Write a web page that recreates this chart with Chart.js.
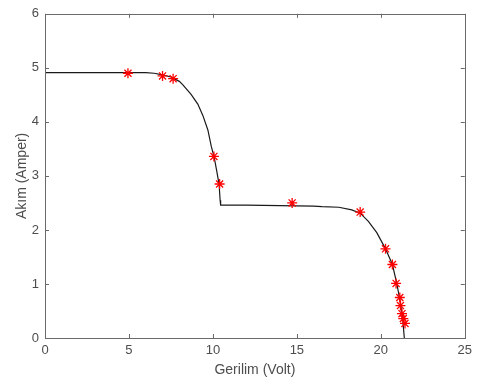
<!DOCTYPE html>
<html>
<head>
<meta charset="utf-8">
<script src="https://cdn.jsdelivr.net/npm/chart.js@4"></script>
<style>
  html, body { margin: 0; padding: 0; background: #fff; }
  #wrap { width: 477px; height: 385px; position: relative; }
</style>
</head>
<body>
<div id="wrap"><canvas id="iv"></canvas></div>
<script>
// I-V eğrisi (model)
const curveV = [0, 2, 4, 6, 6.5, 7.0, 7.5, 8.0, 8.2, 8.7, 9.1, 9.4, 9.7, 9.9, 10.08, 10.24, 10.37, 10.43, 10.46,
                12, 14, 16, 16.5, 17.5, 18.27, 18.77, 19.26, 19.76, 20.28, 20.69, 20.95, 21.15, 21.3, 21.4];
const curveI = [4.91, 4.91, 4.91, 4.91, 4.90, 4.87, 4.83, 4.75, 4.69, 4.51, 4.33, 4.12, 3.85, 3.55, 3.34, 3.07, 2.84, 2.55, 2.46,
                2.46, 2.45, 2.44, 2.43, 2.42, 2.37, 2.31, 2.16, 1.95, 1.65, 1.36, 1.01, 0.68, 0.36, 0.0];
// ölçüm noktaları (kırmızı yıldızlar)
const measV = [4.94, 7.0, 7.63, 10.06, 10.4, 14.72, 18.77, 20.28, 20.69, 20.91, 21.13, 21.17, 21.26, 21.34, 21.44];
const measI = [4.90, 4.85, 4.80, 3.36, 2.85, 2.50, 2.33, 1.65, 1.36, 1.01, 0.75, 0.60, 0.45, 0.36, 0.27];
const xTicks = [0, 5, 10, 15, 20, 25];
const yTicks = [0, 1, 2, 3, 4, 5, 6];

const TXT = "#4d4d4d", AXC = "#6a6a6a", FONT = "'Liberation Sans', Arial, sans-serif";
const pts = (xs, ys) => xs.map((x, i) => ({ x, y: ys[i] }));

// MATLAB tarzı kutu + içe dönük tikler
const boxTicks = {
  id: "boxTicks",
  afterDatasetsDraw(chart) {
    const { ctx, chartArea: a, scales: { x, y } } = chart;
    ctx.save();
    ctx.strokeStyle = AXC; ctx.lineWidth = 1;
    ctx.strokeRect(Math.round(a.left) + .5, Math.round(a.top) + .5, Math.round(a.right - a.left), Math.round(a.bottom - a.top));
    ctx.beginPath();
    const L = 4;
    xTicks.forEach(v => {
      const px = Math.round(x.getPixelForValue(v)) + .5;
      ctx.moveTo(px, a.bottom); ctx.lineTo(px, a.bottom - L);
      ctx.moveTo(px, a.top); ctx.lineTo(px, a.top + L);
    });
    yTicks.forEach(v => {
      const py = Math.round(y.getPixelForValue(v)) + .5;
      ctx.moveTo(a.left, py); ctx.lineTo(a.left + L, py);
      ctx.moveTo(a.right, py); ctx.lineTo(a.right - L, py);
    });
    ctx.stroke();
    ctx.restore();
  }
};

new Chart(document.getElementById("iv"), {
  type: "scatter",
  data: {
    datasets: [
      { data: pts(curveV, curveI), showLine: true, borderColor: "#1a1a1a", borderWidth: 1.2, pointRadius: 0, tension: 0, order: 2 },
      { data: pts(measV, measI), showLine: false, pointStyle: "star", pointRadius: 5, borderColor: "#ff0000", backgroundColor: "#ff0000", pointBorderWidth: 1.3, order: 1 },
    ],
  },
  options: {
    responsive: true, maintainAspectRatio: false, animation: false,
    layout: { padding: { top: 6, right: 10, left: 14, bottom: 6 } },
    plugins: { legend: { display: false }, tooltip: { enabled: false } },
    scales: {
      x: {
        type: "linear", min: 0, max: 25,
        afterBuildTicks: (s) => { s.ticks = xTicks.map(value => ({ value })); },
        grid: { display: false, drawTicks: false }, border: { display: false },
        ticks: { color: TXT, font: { family: FONT, size: 13 }, padding: 5, maxRotation: 0 },
        title: { display: true, text: "Gerilim (Volt)", color: TXT, font: { family: FONT, size: 14 }, padding: { top: 2, bottom: 0 } },
        afterFit: (s) => { s.height = 41; },
      },
      y: {
        type: "linear", min: 0, max: 6,
        afterBuildTicks: (s) => { s.ticks = yTicks.map(value => ({ value })); },
        grid: { display: false, drawTicks: false }, border: { display: false },
        ticks: { color: TXT, font: { family: FONT, size: 13 }, padding: 6 },
        title: { display: true, text: "Akım (Amper)", color: TXT, font: { family: FONT, size: 14 }, padding: { top: 0, bottom: 2 } },
        afterFit: (s) => { s.width = 31; },
      },
    },
  },
  plugins: [boxTicks],
});
</script>
</body>
</html>
